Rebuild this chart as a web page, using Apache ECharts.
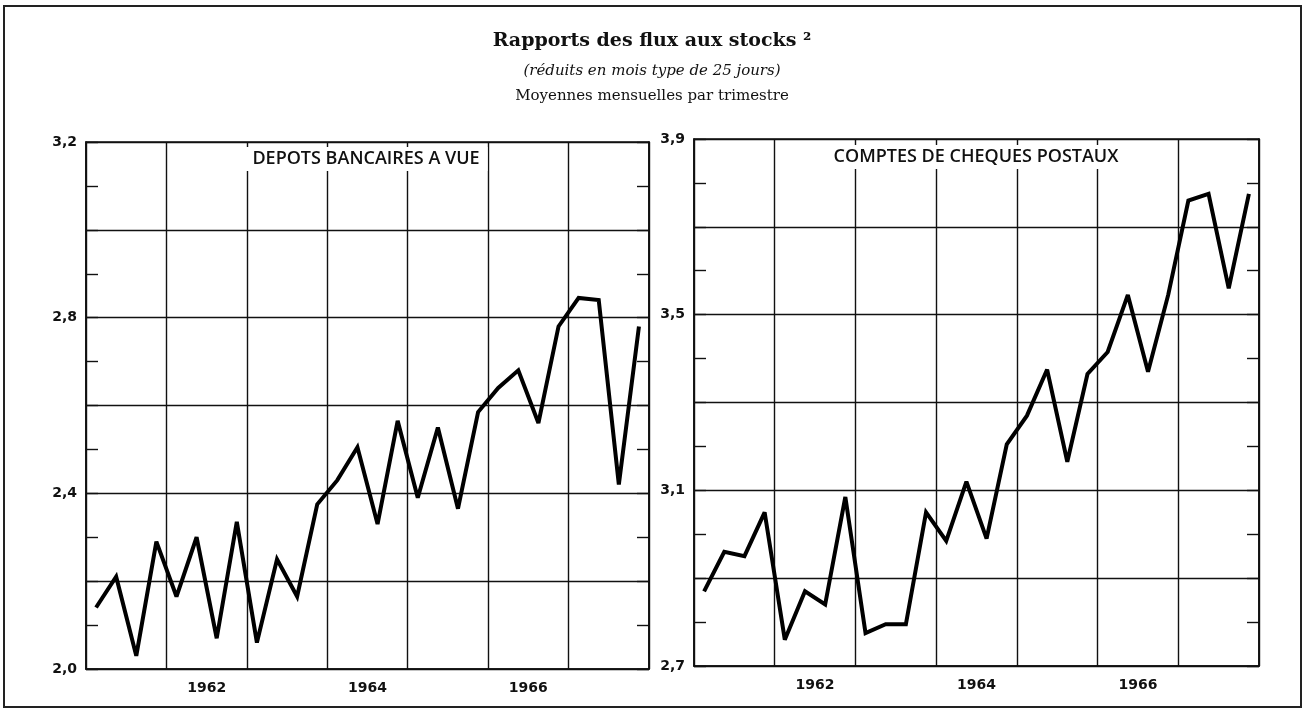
<!DOCTYPE html>
<html>
<head>
<meta charset="utf-8">
<title>Rapports des flux aux stocks</title>
<script src="https://cdn.jsdelivr.net/npm/echarts@6/dist/echarts.min.js"></script>
<style>
  html, body { margin: 0; padding: 0; background: #fff; }
  #chart { width: 1310px; height: 711px; }
</style>
</head>
<body>
<div id="chart"></div>
<script>
// annees (bandes verticales) et trimestres (points des courbes)
const years = ["1961", "1962", "1963", "1964", "1965", "1966", "1967"];
const yearLabels = ["1962", "1964", "1966"];
const quarters = [];
years.forEach(y => {
  for (let q = 1; q <= 4; q++) quarters.push(y + "T" + q);
});

// depots bancaires a vue
const depots = [
  2.14, 2.21, 2.03, 2.29,
  2.165, 2.30, 2.07, 2.335,
  2.06, 2.25, 2.165, 2.375,
  2.43, 2.505, 2.33, 2.565,
  2.39, 2.55, 2.365, 2.585,
  2.64, 2.68, 2.56, 2.78,
  2.845, 2.84, 2.42, 2.78
];

// comptes de cheques postaux
const cheques = [
  2.87, 2.96, 2.95, 3.05,
  2.76, 2.87, 2.84, 3.085,
  2.775, 2.795, 2.795, 3.05,
  2.985, 3.12, 2.99, 3.205,
  3.27, 3.375, 3.165, 3.365,
  3.415, 3.545, 3.37, 3.545,
  3.76, 3.775, 3.56, 3.775
];

const leftRange = [2.0, 3.2];
const rightRange = [2.7, 3.9];

const ink = "#111";
const labelFont = { color: ink, fontFamily: "DejaVu Sans", fontWeight: "bold", fontSize: 14 };

const fmt = v => v.toFixed(1).replace(".", ",");

const yearAxis = gridIndex => ({
  type: "category",
  gridIndex: gridIndex,
  data: years,
  boundaryGap: true,
  position: "bottom",
  axisLine: { show: true, lineStyle: { color: ink, width: 1.6 } },
  axisTick: { show: false },
  axisLabel: {
    ...labelFont,
    margin: 12,
    interval: 0,
    formatter: v => (yearLabels.includes(v) ? v : "")
  },
  splitLine: { show: true, lineStyle: { color: ink, width: 1.4 } }
});

const quarterAxis = gridIndex => ({
  type: "category",
  gridIndex: gridIndex,
  data: quarters,
  boundaryGap: true,
  show: false
});

const valueAxis = (gridIndex, range, side) => ({
  type: "value",
  gridIndex: gridIndex,
  position: side,
  min: range[0],
  max: range[1],
  interval: 0.2,
  axisLine: { show: true, lineStyle: { color: ink, width: 1.6 } },
  axisTick: { show: true, inside: true, length: 12, lineStyle: { color: ink, width: 1.4 } },
  minorTick: { show: true, splitNumber: 2, length: 12, lineStyle: { color: ink, width: 1.4 } },
  axisLabel: side === "left" ? {
    ...labelFont,
    margin: 9,
    formatter: v => (Math.round(v * 10 - range[0] * 10) % 4 === 0 ? fmt(v) : "")
  } : { show: false },
  splitLine: { show: side === "left", lineStyle: { color: ink, width: 1.4 } },
  minorSplitLine: { show: false }
});

const chart = echarts.init(document.getElementById("chart"));

chart.setOption({
  animation: false,
  backgroundColor: "#fff",
  grid: [
    { left: 86, top: 142, width: 563, height: 527, show: true, borderColor: ink, borderWidth: 1.6 },
    { left: 694, top: 139, width: 565, height: 527, show: true, borderColor: ink, borderWidth: 1.6 }
  ],
  xAxis: [yearAxis(0), quarterAxis(0), yearAxis(1), quarterAxis(1)],
  yAxis: [
    valueAxis(0, leftRange, "left"),
    valueAxis(0, leftRange, "right"),
    valueAxis(1, rightRange, "left"),
    valueAxis(1, rightRange, "right")
  ],
  series: [
    {
      name: "Dépôts bancaires à vue",
      type: "line",
      xAxisIndex: 1,
      yAxisIndex: 0,
      data: depots,
      symbol: "none",
      lineStyle: { color: "#000", width: 4, join: "miter", miterLimit: 3 },
      z: 5
    },
    {
      name: "Comptes de chèques postaux",
      type: "line",
      xAxisIndex: 3,
      yAxisIndex: 2,
      data: cheques,
      symbol: "none",
      lineStyle: { color: "#000", width: 4, join: "miter", miterLimit: 3 },
      z: 5
    }
  ],
  graphic: [
    {
      type: "rect",
      shape: { x: 4, y: 6, width: 1297, height: 701 },
      style: { fill: null, stroke: "#222", lineWidth: 2 },
      z: 1
    },
    {
      type: "text", x: 652, y: 41, z: 100,
      style: {
        text: "Rapports des flux aux stocks ²",
        font: 'bold 19px "DejaVu Serif"',
        fill: ink, align: "center", verticalAlign: "middle"
      }
    },
    {
      type: "text", x: 652, y: 71, z: 100,
      style: {
        text: "(réduits en mois type de 25 jours)",
        font: 'italic 15px "DejaVu Serif"',
        fill: ink, align: "center", verticalAlign: "middle"
      }
    },
    {
      type: "text", x: 652, y: 96, z: 100,
      style: {
        text: "Moyennes mensuelles par trimestre",
        font: '15px "DejaVu Serif"',
        fill: ink, align: "center", verticalAlign: "middle"
      }
    },
    {
      type: "text", x: 366, y: 159, z: 100,
      style: {
        text: "DEPOTS BANCAIRES A VUE",
        font: '600 18px "Open Sans"',
        fill: ink, align: "center", verticalAlign: "middle",
        backgroundColor: "#fff", padding: [3, 8]
      }
    },
    {
      type: "text", x: 976, y: 157, z: 100,
      style: {
        text: "COMPTES DE CHEQUES POSTAUX",
        font: '600 18px "Open Sans"',
        fill: ink, align: "center", verticalAlign: "middle",
        backgroundColor: "#fff", padding: [3, 8]
      }
    }
  ]
});
</script>
</body>
</html>
